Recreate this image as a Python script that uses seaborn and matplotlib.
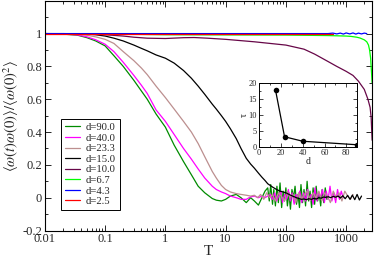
import pandas as pd
import seaborn as sns
import matplotlib.pyplot as plt
from matplotlib.ticker import FuncFormatter, MultipleLocator, LogLocator, NullFormatter

# curves (T, normalised autocorrelation)
labels = ["d=90.0", "d=40.0", "d=23.3", "d=15.0", "d=10.0", "d=6.7", "d=4.3", "d=2.5"]
colors = ["#008b00", "#ff00ff", "#bc8f8f", "#000000", "#670748", "#00ff00", "#0000ff", "#ff0000"]

t_d90 = [0.01, 0.02, 0.035, 0.05, 0.07, 0.1, 0.14, 0.2, 0.3, 0.4, 0.5, 0.7, 1, 1.4, 2, 2.7, 3.5, 4.5, 6, 7,
         8.5, 10, 12, 15, 18, 22, 26, 30, 35, 40, 45,
         50, 53, 56, 60, 63, 67, 71, 75, 80, 85, 90, 95, 100, 106, 112, 119, 126, 134, 142, 150,
         159, 168, 178, 189, 200, 212, 225, 238, 252, 267, 283, 300, 318, 337, 357, 378, 400, 425, 450, 480]
c_d90 = [1.0, 0.997, 0.99, 0.975, 0.955, 0.925, 0.865, 0.80, 0.715, 0.65, 0.60, 0.51, 0.43, 0.32, 0.22, 0.14, 0.07, 0.03, -0.005, -0.015,
         -0.02, -0.01, 0.01, 0.02, 0.0, -0.03, 0.0, -0.02, -0.045, 0.0, 0.04,
         0.06, -0.02, 0.08, -0.04, 0.05, -0.05, 0.07, -0.03, 0.09, -0.06, 0.04, -0.02, 0.06, -0.05, 0.03, -0.07, 0.05, 0.0, 0.07, -0.04,
         0.02, -0.06, 0.08, -0.03, 0.05, -0.05, 0.1, -0.02, 0.04, -0.06, 0.06, -0.04, 0.07, -0.02, 0.03, -0.05, 0.05, -0.03, 0.06, -0.01]

t_d40 = [0.01, 0.02, 0.035, 0.05, 0.07, 0.1, 0.14, 0.2, 0.3, 0.4, 0.5, 0.7, 1, 1.4, 2, 2.7, 3.5, 4.5, 6, 7,
         8.5, 10, 12, 15, 18, 22, 26, 30, 35, 40, 45, 50,
         55, 60, 65, 70, 76, 82, 88, 95, 102, 110, 118, 127, 137, 147, 158, 170, 183, 197, 212, 228,
         245, 263, 283, 304, 327, 351, 377, 405, 435, 467, 502, 540, 580, 623, 670, 720, 773, 830, 892]
c_d40 = [1.0, 0.998, 0.992, 0.98, 0.962, 0.935, 0.89, 0.825, 0.745, 0.685, 0.635, 0.535, 0.465, 0.385, 0.30, 0.235, 0.175, 0.12, 0.07, 0.05,
         0.035, 0.025, 0.01, 0.0, -0.01, -0.01, 0.005, 0.01, 0.0, 0.01, 0.0, 0.01,
         0.02, -0.01, 0.03, -0.02, 0.01, 0.04, -0.03, 0.02, -0.01, 0.05, -0.02, 0.03, -0.04, 0.02, 0.0, 0.04, -0.03, 0.03, -0.02, 0.05,
         -0.01, 0.02, -0.04, 0.06, -0.02, 0.03, 0.0, 0.05, -0.03, 0.04, -0.01, 0.07, -0.02, 0.03, -0.03, 0.05, -0.01, 0.04, 0.0]

t_d23 = [0.01, 0.02, 0.035, 0.05, 0.07, 0.1, 0.14, 0.2, 0.3, 0.4, 0.5, 0.7, 1, 1.4, 2, 2.7, 3.5, 4.5, 6, 7,
         8.5, 10, 12, 15, 18, 22, 26, 30,
         34, 38, 43, 48, 54, 60, 67, 75, 84, 94, 105, 117, 131, 146, 163, 182, 203, 227, 253, 283,
         316, 353, 394, 440, 491, 548, 612, 683, 762, 851, 950, 1060, 1180, 1300]
c_d23 = [1.0, 0.999, 0.996, 0.99, 0.98, 0.965, 0.94, 0.89, 0.835, 0.79, 0.75, 0.68, 0.61, 0.54, 0.465, 0.40, 0.33, 0.25, 0.16, 0.12,
         0.075, 0.05, 0.035, 0.025, 0.02, 0.015, 0.01, 0.015,
         0.0, 0.02, -0.01, 0.03, 0.0, 0.02, -0.02, 0.03, 0.01, -0.02, 0.04, 0.0, 0.02, -0.03, 0.03, -0.01, 0.02, 0.04, -0.02, 0.03,
         0.0, 0.04, -0.02, 0.03, 0.01, -0.03, 0.04, 0.0, 0.03, -0.02, 0.04, 0.01, -0.01, 0.02]

t_d15 = [0.01, 0.02, 0.035, 0.05, 0.07, 0.1, 0.14, 0.2, 0.3, 0.4, 0.5, 0.7, 1, 1.4, 2, 2.7, 3.5, 4.5, 6, 7,
         8.5, 10, 12, 15, 18, 22, 26, 30, 35, 40, 45, 50, 60, 70, 80, 100, 120, 150,
         165, 180, 200, 220, 240, 265, 290, 320, 350, 385, 420, 460, 505, 555, 610, 670, 735, 805, 880, 965,
         1060, 1160, 1270, 1390, 1520, 1660, 1800]
c_d15 = [1.0, 1.0, 0.999, 0.997, 0.993, 0.985, 0.972, 0.955, 0.93, 0.91, 0.895, 0.87, 0.85, 0.82, 0.775, 0.728, 0.68, 0.63, 0.57, 0.54,
         0.50, 0.465, 0.42, 0.36, 0.30, 0.24, 0.205, 0.18, 0.15, 0.125, 0.105, 0.085, 0.065, 0.05, 0.04, 0.03, 0.015, 0.0,
         -0.005, -0.01, -0.008, -0.012, -0.006, -0.01, -0.004, -0.008, 0.0, -0.003, 0.004, 0.002, 0.006, 0.0, 0.008, 0.003, 0.01, -0.002, 0.012, -0.006,
         0.014, -0.01, 0.016, -0.012, 0.02, -0.014, 0.01]

t_d10 = [0.01, 0.05, 0.1, 0.2, 0.3, 0.5, 1, 2, 3, 5, 10, 30, 100, 200, 300, 500, 700, 1000, 1300, 1600,
         2000, 2300, 2500, 2600, 2700]
c_d10 = [1.0, 0.999, 0.993, 0.985, 0.978, 0.972, 0.97, 0.975, 0.976, 0.972, 0.965, 0.95, 0.93, 0.905, 0.875, 0.83, 0.80, 0.77, 0.745, 0.71,
         0.66, 0.60, 0.55, 0.49, 0.35]

t_d67 = [0.01, 0.1, 1, 10, 100, 500, 1000, 1200, 1500, 1700, 2000, 2200, 2350, 2450, 2550, 2620, 2700]
c_d67 = [1.0, 0.998, 0.993, 0.992, 0.991, 0.988, 0.985, 0.983, 0.978, 0.973, 0.962, 0.95, 0.93, 0.90, 0.85, 0.78, 0.70]

t_d43 = [0.01, 0.1, 1, 10, 100, 300, 500, 600, 700, 800, 900, 1000, 1150, 1300, 1450, 1600, 1800, 2000, 2200]
c_d43 = [1.0, 1.0, 1.0, 1.0, 1.0, 1.0, 1.0, 1.003, 0.998, 1.003, 0.997, 1.004, 0.998, 1.004, 0.997, 1.003, 0.998, 1.003, 1.0]

t_d25 = [0.01, 1, 100, 600]
c_d25 = [1.0, 1.0, 1.0, 1.0]

# inset: relaxation time vs d
d_inset = [15.0, 23.3, 40.0, 90.0]
tau_inset = [17.8, 3.2, 1.8, 0.7]

series = [(t_d90, c_d90), (t_d40, c_d40), (t_d23, c_d23), (t_d15, c_d15),
          (t_d10, c_d10), (t_d67, c_d67), (t_d43, c_d43), (t_d25, c_d25)]
df = pd.concat([pd.DataFrame({"T": t, "C": c, "d": lab}) for (t, c), lab in zip(series, labels)],
               ignore_index=True)

sns.set_theme(style="ticks")
plt.rcParams["font.family"] = ["Liberation Serif", "DejaVu Serif"]
plt.rcParams["mathtext.fontset"] = "stix"

fig = plt.figure(figsize=(3.74, 2.57), dpi=100)
ax = fig.add_axes([0.120, 0.103, 0.875, 0.894])

sns.lineplot(data=df, x="T", y="C", hue="d", hue_order=labels,
             palette=dict(zip(labels, colors)), estimator=None, linewidth=0.9, ax=ax)

ax.set_xscale("log")
ax.set_xlim(0.01, 2700)
ax.set_ylim(-0.2, 1.2)
ax.xaxis.set_major_locator(LogLocator(base=10))
ax.xaxis.set_minor_locator(LogLocator(base=10, subs=range(2, 10)))
ax.xaxis.set_minor_formatter(NullFormatter())
ax.xaxis.set_major_formatter(FuncFormatter(lambda v, p: "%g" % v))
ax.yaxis.set_major_locator(MultipleLocator(0.2))
ax.yaxis.set_minor_locator(MultipleLocator(0.1))
ax.yaxis.set_major_formatter(FuncFormatter(lambda v, p: "" if v > 1.1 else "%g" % round(v, 1)))
ax.tick_params(which="both", direction="in", top=True, right=True, labelsize=9, pad=2, width=0.7)
ax.tick_params(which="major", length=4)
ax.tick_params(which="minor", length=2)
for s in ax.spines.values():
    s.set_linewidth(0.8)
    s.set_color("black")

ax.set_xlabel("T", fontsize=11, labelpad=0)
ax.set_ylabel(r"$\langle\omega(t)\omega(0)\rangle/\langle\omega(0)^2\rangle$", fontsize=10.5, labelpad=1)

handles, labs = ax.get_legend_handles_labels()
leg = ax.legend(handles, labs, loc="lower left", bbox_to_anchor=(0.049, 0.09), borderaxespad=0,
                fontsize=7.7, frameon=True, fancybox=False, edgecolor="black", framealpha=1,
                handlelength=1.4, handletextpad=0.6, labelspacing=0.1, borderpad=0.35)
leg.get_frame().set_linewidth(0.7)

# inset
axi = fig.add_axes([0.693, 0.428, 0.262, 0.249])
sns.lineplot(x=d_inset, y=tau_inset, color="black", marker="o", markersize=4, markeredgewidth=0,
             linewidth=0.9, ax=axi)
axi.set_xlim(0, 90)
axi.set_ylim(0, 20)
axi.xaxis.set_major_locator(MultipleLocator(20))
axi.xaxis.set_minor_locator(MultipleLocator(10))
axi.yaxis.set_major_locator(MultipleLocator(5))
axi.yaxis.set_minor_locator(MultipleLocator(2.5))
axi.tick_params(which="both", direction="in", top=True, right=True, labelsize=6, pad=1.5, width=0.6)
axi.tick_params(which="major", length=3)
axi.tick_params(which="minor", length=1.5)
for s in axi.spines.values():
    s.set_linewidth(0.7)
    s.set_color("black")
axi.set_xlabel("d", fontsize=7, labelpad=0)
axi.set_ylabel("τ", fontsize=7, labelpad=0)

fig.savefig("out.png", dpi=100)
